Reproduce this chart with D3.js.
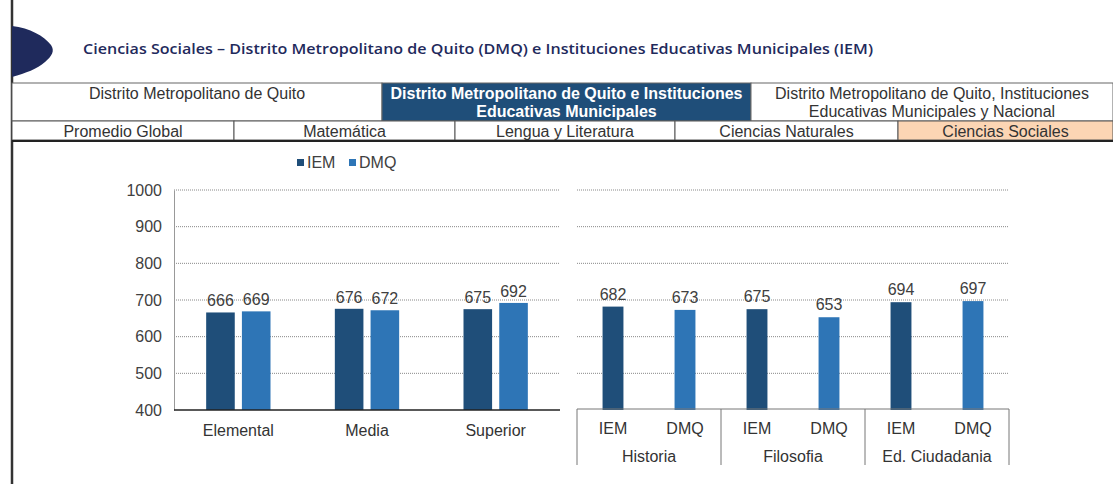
<!DOCTYPE html>
<meta charset="utf-8">
<title>Ciencias Sociales - DMQ e IEM</title>
<script src="https://d3js.org/d3.v7.min.js"></script>
<style>
  body { margin: 0; background: #fff; }
  text { font-family: "Liberation Sans", Arial, sans-serif; }
</style>
<body>
<svg width="1113" height="484"></svg>
<script>

// chart data
var levels = ["Elemental", "Media", "Superior"];
var seriesKeys = ["IEM", "DMQ"];
var iemByLevel = [666, 676, 675];
var dmqByLevel = [669, 672, 692];

var areas = ["Historia", "Filosofia", "Ed. Ciudadania"];
var iemByArea = [682, 675, 694];
var dmqByArea = [673, 653, 697];

var yTicks = [400, 500, 600, 700, 800, 900, 1000];

// header table texts
var titleText = "Ciencias Sociales \u2013 Distrito Metropolitano de Quito (DMQ) e Instituciones Educativas Municipales (IEM)";
var topTabs = [
  ["Distrito Metropolitano de Quito"],
  ["Distrito Metropolitano de Quito e Instituciones", "Educativas Municipales"],
  ["Distrito Metropolitano de Quito, Instituciones", "Educativas Municipales y Nacional"]
];
var subTabs = ["Promedio Global", "Matem\u00e1tica", "Lengua y Literatura", "Ciencias Naturales", "Ciencias Sociales"];

var colors = { IEM: "#1f4e79", DMQ: "#2e75b6" };

var svg = d3.select("svg");

// left frame line and logo shape
svg.append("line")
    .attr("x1", 12).attr("x2", 12).attr("y1", 0).attr("y2", 484)
    .attr("stroke", "#333").attr("stroke-width", 2.5);

svg.append("path")
    .attr("d", "M12,26 C30,28 44,36 51,45 C55,51 52,56 45,62 C37,69 26,73 12,77 Z")
    .attr("fill", "#1f2a5c");

svg.append("text")
    .attr("x", 83).attr("y", 54)
    .attr("fill", "#1f2a5c")
    .attr("textLength", 790)
    .attr("lengthAdjust", "spacingAndGlyphs")
    .style("font-family", "'Open Sans', sans-serif")
    .style("font-size", "15px")
    .style("font-weight", "600")
    .text(titleText);

// header table
var topX = [12, 382, 751, 1113];
var subX = [12, 234, 455, 675, 898, 1113];

topTabs.forEach(function(lines, i) {
  var active = i === 1;
  svg.append("rect")
      .attr("x", topX[i]).attr("y", 83)
      .attr("width", topX[i + 1] - topX[i]).attr("height", 38)
      .attr("fill", active ? "#1f4e79" : "#fff")
      .attr("stroke", "#666").attr("stroke-width", 1);
  lines.forEach(function(l, j) {
    svg.append("text")
        .attr("x", (topX[i] + topX[i + 1]) / 2)
        .attr("y", 99 + j * 18)
        .attr("text-anchor", "middle")
        .attr("fill", active ? "#fff" : "#333")
        .style("font-size", "16px")
        .style("font-weight", active ? "bold" : "normal")
        .text(l);
  });
});

subTabs.forEach(function(s, i) {
  var active = i === 4;
  svg.append("rect")
      .attr("x", subX[i]).attr("y", 121)
      .attr("width", subX[i + 1] - subX[i]).attr("height", 19)
      .attr("fill", active ? "#fcd5b4" : "#fff")
      .attr("stroke", "#555").attr("stroke-width", 1);
  svg.append("text")
      .attr("x", (subX[i] + subX[i + 1]) / 2)
      .attr("y", 137)
      .attr("text-anchor", "middle")
      .attr("fill", "#333")
      .style("font-size", "16px")
      .text(s);
});
svg.append("line")
    .attr("x1", 12).attr("x2", 1113).attr("y1", 141).attr("y2", 141)
    .attr("stroke", "#222").attr("stroke-width", 2);

// shared y scale
var y = d3.scaleLinear().domain([400, 1000]).range([410, 190]);

// ---------- left chart: by level ----------
var left = svg.append("g");

var x0 = d3.scaleBand()
    .domain(levels)
    .range([174, 560])
    .paddingInner(0.5)
    .paddingOuter(0.25);

var x1 = d3.scaleBand()
    .domain(seriesKeys)
    .range([0, x0.bandwidth()])
    .paddingInner(0.2);

left.selectAll(".grid")
  .data(yTicks.slice(1))
  .enter().append("line")
    .attr("x1", 174).attr("x2", 560)
    .attr("y1", function(d) { return y(d); })
    .attr("y2", function(d) { return y(d); })
    .attr("stroke", "#888").attr("stroke-dasharray", "1,1");

var yAxis = left.append("g")
    .attr("transform", "translate(174,0)")
    .call(d3.axisLeft(y).tickValues(yTicks).tickFormat(d3.format("d")).tickSize(0).tickPadding(12));
yAxis.select(".domain").attr("stroke", "#999");
yAxis.selectAll("text")
    .attr("fill", "#404040")
    .style("font-family", "'Liberation Sans', Arial, sans-serif")
    .style("font-size", "16px");

var levelData = levels.map(function(l, i) {
  return { level: l, values: [ { key: "IEM", value: iemByLevel[i] }, { key: "DMQ", value: dmqByLevel[i] } ] };
});

var grp = left.selectAll(".lvl")
  .data(levelData)
  .enter().append("g")
    .attr("transform", function(d) { return "translate(" + x0(d.level) + ",0)"; });

grp.selectAll("rect")
  .data(function(d) { return d.values; })
  .enter().append("rect")
    .attr("x", function(d) { return x1(d.key); })
    .attr("y", function(d) { return y(d.value); })
    .attr("width", x1.bandwidth())
    .attr("height", function(d) { return y(400) - y(d.value); })
    .attr("fill", function(d) { return colors[d.key]; });

grp.selectAll(".val")
  .data(function(d) { return d.values; })
  .enter().append("text")
    .attr("x", function(d) { return x1(d.key) + x1.bandwidth() / 2; })
    .attr("y", function(d) { return y(d.value) - 6; })
    .attr("text-anchor", "middle")
    .attr("fill", "#404040")
    .style("font-size", "16px")
    .text(function(d) { return d.value; });

left.append("line")
    .attr("x1", 174).attr("x2", 560).attr("y1", 410).attr("y2", 410)
    .attr("stroke", "#222").attr("stroke-width", 1.5);

left.selectAll(".lvlLabel")
  .data(levels)
  .enter().append("text")
    .attr("x", function(d) { return x0(d) + x0.bandwidth() / 2; })
    .attr("y", 436)
    .attr("text-anchor", "middle")
    .attr("fill", "#333")
    .style("font-size", "16px")
    .text(function(d) { return d; });

// legend
var legend = svg.selectAll(".legend")
  .data(seriesKeys)
  .enter().append("g")
    .attr("transform", function(d, i) { return "translate(" + (297 + i * 52) + ",163)"; });
legend.append("rect")
    .attr("x", 0).attr("y", -4).attr("width", 7).attr("height", 7)
    .attr("fill", function(d) { return colors[d]; });
legend.append("text")
    .attr("x", 10).attr("y", 5)
    .attr("fill", "#404040")
    .style("font-size", "16px")
    .text(function(d) { return d; });

// ---------- right chart: by area ----------
var right = svg.append("g");

var areaBars = [];
areas.forEach(function(a, i) {
  areaBars.push({ area: a, key: "IEM", value: iemByArea[i], id: a + "|IEM" });
  areaBars.push({ area: a, key: "DMQ", value: dmqByArea[i], id: a + "|DMQ" });
});

var xr = d3.scaleBand()
    .domain(areaBars.map(function(d) { return d.id; }))
    .range([577, 1009])
    .paddingInner(0.71)
    .paddingOuter(0.355);

var xa = d3.scaleBand()
    .domain(areas)
    .range([577, 1009]);

right.selectAll(".grid")
  .data(yTicks.slice(1))
  .enter().append("line")
    .attr("x1", 577).attr("x2", 1009)
    .attr("y1", function(d) { return y(d); })
    .attr("y2", function(d) { return y(d); })
    .attr("stroke", "#888").attr("stroke-dasharray", "1,1");

right.selectAll("rect")
  .data(areaBars)
  .enter().append("rect")
    .attr("x", function(d) { return xr(d.id); })
    .attr("y", function(d) { return y(d.value); })
    .attr("width", xr.bandwidth())
    .attr("height", function(d) { return y(400) - y(d.value); })
    .attr("fill", function(d) { return colors[d.key]; });

right.selectAll(".val")
  .data(areaBars)
  .enter().append("text")
    .attr("x", function(d) { return xr(d.id) + xr.bandwidth() / 2; })
    .attr("y", function(d) { return y(d.value) - 7; })
    .attr("text-anchor", "middle")
    .attr("fill", "#404040")
    .style("font-size", "16px")
    .text(function(d) { return d.value; });

right.append("line")
    .attr("x1", 577).attr("x2", 1009).attr("y1", 409).attr("y2", 409)
    .attr("stroke", "#777").attr("stroke-width", 1);

var dividers = areas.map(function(a) { return xa(a); }).concat([1009]);
right.selectAll(".div")
  .data(dividers)
  .enter().append("line")
    .attr("x1", function(d) { return d; }).attr("x2", function(d) { return d; })
    .attr("y1", 409).attr("y2", 465)
    .attr("stroke", "#777").attr("stroke-width", 1);

right.selectAll(".keyLabel")
  .data(areaBars)
  .enter().append("text")
    .attr("x", function(d) { return xr(d.id) + xr.bandwidth() / 2; })
    .attr("y", 434)
    .attr("text-anchor", "middle")
    .attr("fill", "#333")
    .style("font-size", "16px")
    .text(function(d) { return d.key; });

right.selectAll(".areaLabel")
  .data(areas)
  .enter().append("text")
    .attr("x", function(d) { return xa(d) + xa.bandwidth() / 2; })
    .attr("y", 462)
    .attr("text-anchor", "middle")
    .attr("fill", "#333")
    .style("font-size", "16px")
    .text(function(d) { return d; });

</script>
</body>
